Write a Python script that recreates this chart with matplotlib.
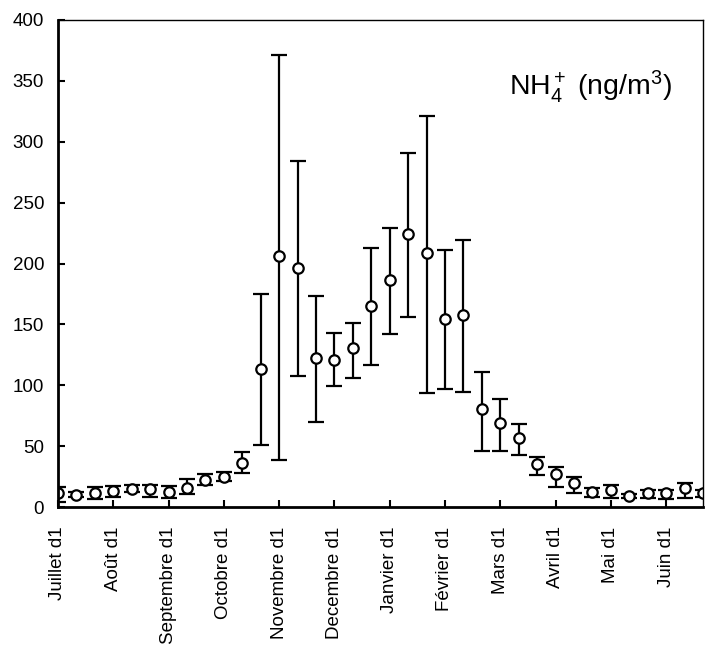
import matplotlib
matplotlib.use('Agg')
import matplotlib.pyplot as plt
import numpy as np

plt.rcParams['font.family'] = ['Liberation Sans', 'DejaVu Sans']
plt.rcParams['mathtext.fontset'] = 'custom'
plt.rcParams['mathtext.rm'] = 'Liberation Sans'
plt.rcParams['mathtext.it'] = 'Liberation Sans'

# decades (3 per month), July -> June
months = ['Juillet d1', 'Août d1', 'Septembre d1', 'Octobre d1', 'Novembre d1',
          'Decembre d1', 'Janvier d1', 'Février d1', 'Mars d1', 'Avril d1',
          'Mai d1', 'Juin d1']

nh4 = [11.5, 10, 11.5, 13, 15, 14.5, 12.6, 16, 22, 25, 36, 113,
       206, 196, 122.6, 120.7, 130.3, 165, 186.4, 224.2, 208.9, 154.2, 157.4, 80.2,
       68.7, 56.4, 35, 26.8, 19.4, 12.6, 14, 9, 11.2, 11.2, 15.3, 11.2]
upper = [16.7, 12, 16.4, 17.4, 18, 18, 17.4, 23, 27, 29, 45, 175,
         371, 284, 173.6, 142.7, 151.4, 212.5, 229.4, 290.5, 321.4, 211, 219.3, 110.9,
         88.7, 67.9, 40.8, 33.1, 24.9, 15.3, 18, 10.5, 14, 14, 19.4, 14]
lower = [4.4, 8, 6.6, 8.5, 12.6, 8.5, 7.4, 11, 18, 21, 28, 51,
         39, 107.6, 70, 99.7, 105.7, 116.6, 142, 156.3, 93.4, 96.7, 94.7, 46,
         46, 42.7, 26.3, 16.2, 11.2, 7.9, 7.1, 7, 7.1, 6.3, 7.1, 8]

x = np.arange(len(nh4))
yerr = [np.array(nh4) - np.array(lower), np.array(upper) - np.array(nh4)]

fig = plt.figure(figsize=(7.05, 6.49), dpi=100)
ax = fig.add_axes([58 / 705, 1 - 507 / 649, 645 / 705, 487 / 649])

ax.errorbar(x, nh4, yerr=yerr, fmt='o', color='black', mfc='white', mec='black',
            ms=7.5, mew=1.6, elinewidth=1.6, capsize=5.5, capthick=1.6, clip_on=True)

ax.set_xlim(0, 35)
ax.set_ylim(0, 400)
ax.set_yticks(np.arange(0, 401, 50))
ax.set_xticks(np.arange(0, 36, 3))
ax.set_xticklabels(months, rotation=90, fontsize=13.5)
ax.tick_params(axis='both', direction='in', length=5, width=1.5)
ax.tick_params(axis='y', pad=10, labelsize=13.5)
ax.tick_params(axis='x', pad=14)

ax.spines['left'].set_linewidth(2)
ax.spines['bottom'].set_linewidth(2)
ax.spines['top'].set_linewidth(1)
ax.spines['right'].set_linewidth(1)

ax.text(0.952, 0.846, 'NH$_4^+$ (ng/m$^3$)', transform=ax.transAxes,
        ha='right', va='baseline', fontsize=20.5)

fig.savefig('out.png', dpi=100)
